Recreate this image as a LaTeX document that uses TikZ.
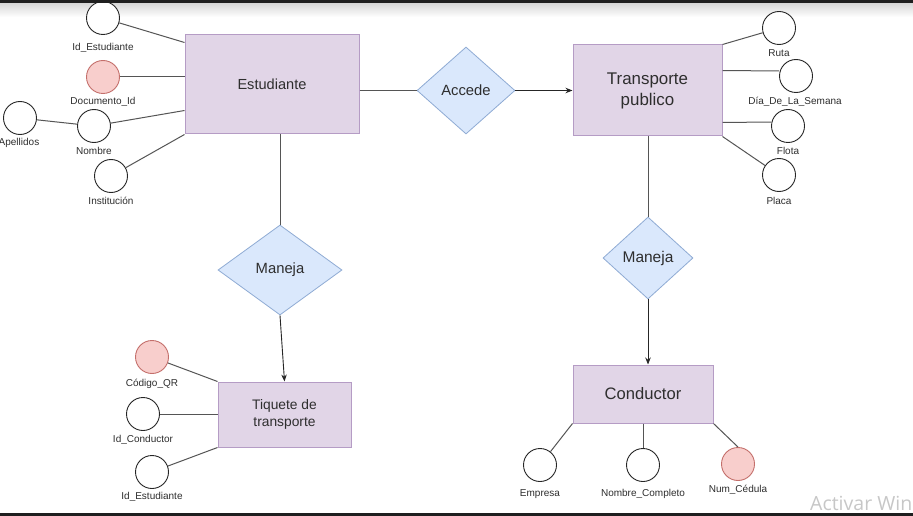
\documentclass[tikz,border=0pt]{standalone}
\usepackage{fontspec}
\setmainfont{Liberation Sans}
\newfontfamily\wmfont{Open Sans}
\usetikzlibrary{shapes.geometric,arrows.meta}
\definecolor{entfill}{HTML}{E1D5E7}
\definecolor{entdraw}{HTML}{B59CC5}
\definecolor{relfill}{HTML}{DAE8FC}
\definecolor{reldraw}{HTML}{8FABD4}
\definecolor{keyfill}{HTML}{F8CECC}
\definecolor{keydraw}{HTML}{C46F6B}
\definecolor{txt}{HTML}{2E2E2E}
\definecolor{lin}{HTML}{555555}
\begin{document}
\begin{tikzpicture}[x=1pt,y=-1pt,
  ent/.style={draw=entdraw,fill=entfill,line width=1pt,inner sep=0pt,align=center,text=txt},
  rel/.style={diamond,draw=reldraw,fill=relfill,line width=0.8pt,inner sep=0pt,text=txt,font=\fontsize{14.8}{17}\selectfont},
  attr/.style={circle,draw=black!85,fill=white,line width=0.9pt,minimum size=33pt,inner sep=0pt},
  keyattr/.style={attr,draw=keydraw,fill=keyfill},
  lbl/.style={inner sep=0pt,text=txt,font=\fontsize{10}{12}\selectfont},
  conn/.style={draw=lin,line width=1pt},
  arr/.style={draw=black!85,line width=0.9pt,-{Stealth[length=7pt,width=5.5pt]}}
]
\useasboundingbox (0,0) rectangle (913,516);
\fill[white] (0,0) rectangle (913,516);
\shade[top color=black!16,bottom color=white] (0,3) rectangle (913,17);

% entities
\node[ent,minimum width=174pt,minimum height=99pt,font=\fontsize{14.6}{17}\selectfont] (est) at (272,84.5) {Estudiante};
\node[ent,minimum width=149pt,minimum height=91pt,font=\fontsize{16.9}{21}\selectfont] (tp) at (647.5,90.5) {Transporte\\publico};
\node[ent,minimum width=133pt,minimum height=65pt,font=\fontsize{13.8}{16.5}\selectfont] (tiq) at (284.5,414.5) {Tiquete de\\transporte};
\node[ent,minimum width=140pt,minimum height=58pt,font=\fontsize{16.6}{19}\selectfont] (con) at (643,394) {Conductor};

% relationships
\node[rel,minimum width=98pt,minimum height=87pt] (acc) at (466,90.5) {Accede};
\node[rel,minimum width=124pt,minimum height=90pt] (man1) at (280,270) {Maneja};
\node[rel,minimum width=90pt,minimum height=82pt,font=\fontsize{15.5}{18}\selectfont] (man2) at (648,258) {Maneja};

% Estudiante attributes
\node[attr] (a1) at (103,18) {};
\node[keyattr] (a2) at (103,77) {};
\node[attr] (a3) at (20,118) {};
\node[attr] (a4) at (94,126) {};
\node[attr] (a5) at (111,176) {};
\node[lbl] (la1) at (103,48) {Id\_Estudiante};
\node[lbl] (la2) at (103,102) {Documento\_Id};
\node[lbl] (la3) at (19,143) {Apellidos};
\node[lbl] (la4) at (94,151) {Nombre};
\node[lbl] (la5) at (111,201) {Institución};

% Transporte attributes
\node[attr] (r1) at (779,28) {};
\node[attr] (r2) at (796,76) {};
\node[attr] (r3) at (788,126) {};
\node[attr] (r4) at (779,175) {};
\node[lbl] (lr1) at (779,53) {Ruta};
\node[lbl] (lr2) at (795,102) {Día\_De\_La\_Semana};
\node[lbl] (lr3) at (788,151) {Flota};
\node[lbl] (lr4) at (779,201) {Placa};

% Tiquete attributes
\node[keyattr] (q1) at (152,357) {};
\node[attr] (q2) at (143,414) {};
\node[attr] (q3) at (152,472) {};
\node[lbl] (lq1) at (152,384) {Código\_QR};
\node[lbl] (lq2) at (143,440) {Id\_Conductor};
\node[lbl] (lq3) at (152,497) {Id\_Estudiante};

% Conductor attributes
\node[attr] (c1) at (540,465) {};
\node[attr] (c2) at (643,465) {};
\node[keyattr] (c3) at (738,464) {};
\node[lbl] (lc1) at (540,494) {Empresa};
\node[lbl] (lc2) at (643,494) {Nombre\_Completo};
\node[lbl] (lc3) at (738,490) {Num\_Cédula};

% connectors
\draw[conn] (est.east |- acc) -- (acc.west);
\draw[arr] (acc.east) -- (tp.west |- acc.east);
\draw[conn] (man1.north |- est.south) -- (man1.north);
\draw[arr] (man1.south) -- (tiq.north);
\draw[conn] (man2.north |- tp.south) -- (man2.north);
\draw[arr] (man2.south) -- (con.north -| man2.south);

\draw[conn] (a1) -- ([yshift=-8pt]est.north west);
\draw[conn] (a2) -- (est.west |- a2);
\draw[conn] (a3) -- (a4);
\draw[conn] (a4) -- ([yshift=24pt]est.south west);
\draw[conn] (a5) -- (est.south west);

\draw[conn] (tp.north east) -- (r1);
\draw[conn] ([yshift=-26pt]tp.north east) -- ([yshift=5pt]r2.west);
\draw[conn] ([yshift=14pt]tp.south east) -- ([yshift=4pt]r3.west);
\draw[conn] (tp.south east) -- (r4);

\draw[conn] (q1) -- (tiq.north west);
\draw[conn] (q2) -- (tiq.west |- q2);
\draw[conn] (q3) -- (tiq.south west);

\draw[conn] (con.south west) -- (c1);
\draw[conn] (con.south) -- (c2);
\draw[conn] (con.south east) -- (c3.north);

% screen elements
\node[anchor=base west,inner sep=0pt,text=black!22,font=\wmfont\fontsize{19.5}{23}\selectfont] (wm) at (810,510) {Activar Win};
\fill[black!88] (0,0) rectangle (913,3);
\fill[black!88] (0,513) rectangle (913,516);
\end{tikzpicture}
\end{document}
